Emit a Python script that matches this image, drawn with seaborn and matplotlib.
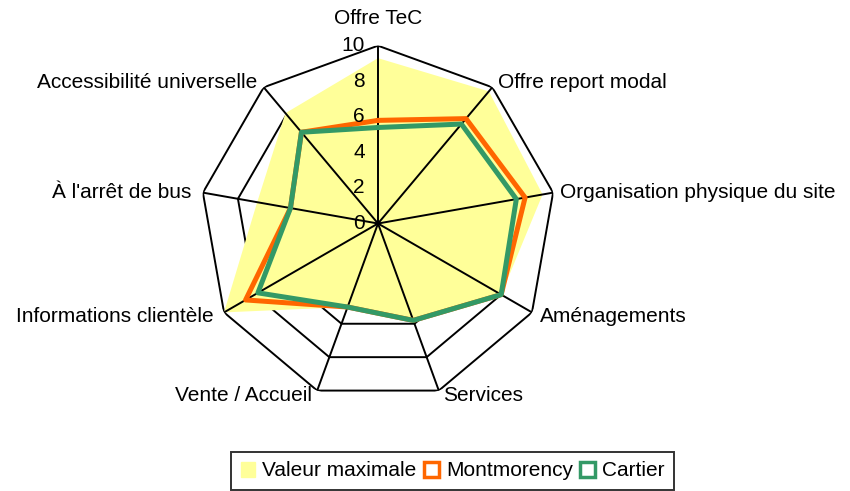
import numpy as np
import pandas as pd
import matplotlib
matplotlib.use("Agg")
import matplotlib.pyplot as plt
from matplotlib.patches import Patch
import seaborn as sns

categories = ["Offre TeC", "Offre report modal", "Organisation physique du site",
              "Aménagements", "Services", "Vente / Accueil",
              "Informations clientèle", "À l'arrêt de bus", "Accessibilité universelle"]
valeur_max = [9.3, 9.7, 9.4, 8.0, 5.8, 5.0, 10.0, 6.9, 8.1]
montmorency = [5.8, 7.7, 8.4, 8.0, 5.8, 5.0, 8.6, 5.0, 6.7]
cartier = [5.4, 7.3, 7.9, 8.0, 5.8, 5.0, 7.8, 5.0, 6.7]
ring_ticks = [0, 2, 4, 6, 8, 10]

sns.set_theme(style="white")
plt.rcParams["font.family"] = ["Liberation Sans", "DejaVu Sans"]
plt.rcParams["text.color"] = "black"

W, H = 850, 491
fig = plt.figure(figsize=(W / 100, H / 100), dpi=100)
cx, cy, R = 378, 223.5, 177.8
ax = fig.add_axes([(cx - R) / W, (H - cy - R) / H, 2 * R / W, 2 * R / H], projection="polar")
ax.set_theta_offset(np.pi / 2)
ax.set_theta_direction(-1)
ax.set_ylim(0, 10)
ax.grid(False)
ax.spines["polar"].set_visible(False)
ax.set_xticks([])
ax.set_yticks([])
ax.set_facecolor("none")

n = len(categories)
theta = np.arange(n) * 2 * np.pi / n
theta_closed = np.append(theta, 2 * np.pi)

# rings (behind the fill)
for v in ring_ticks[1:]:
    ax.plot(theta_closed, [v] * (n + 1), color="black", lw=1.4, zorder=1)

# filled max series
ax.fill(theta_closed, valeur_max + valeur_max[:1], color="#FFFF99", lw=0, zorder=2)

# spokes
for t in theta:
    ax.plot([t, t], [0, 10], color="black", lw=1.4, zorder=3)

rows = []
for name, vals in [("Montmorency", montmorency), ("Cartier", cartier)]:
    for t, v in zip(theta_closed, vals + vals[:1]):
        rows.append({"series": name, "theta": t, "value": v})
df = pd.DataFrame(rows)
sns.lineplot(data=df, x="theta", y="value", hue="series", sort=False, estimator=None,
             palette={"Montmorency": "#FF6600", "Cartier": "#339966"},
             linewidth=3.6, ax=ax, legend=False, zorder=4)
ax.set_xlabel("")
ax.set_ylabel("")
ax.set_ylim(0, 10)

fs = 15
# radial tick labels
for v in ring_ticks:
    ax.annotate(str(v), xy=(0, v), xytext=(-13, 0), textcoords="offset pixels",
                ha="right", va="center", fontsize=fs, color="black", zorder=6)

offsets = [((0, 27), "center"), ((6, 5), "left"), ((7, 0), "left"), ((8, -4), "left"),
           ((4, -5), "left"), ((-5, -5), "right"), ((-10, -4), "right"),
           ((-12, 0), "right"), ((-6, 5), "right")]
for t, lab, (off, ha) in zip(theta, categories, offsets):
    ax.annotate(lab, xy=(t, 10), xytext=off, textcoords="offset pixels",
                ha=ha, va="center", fontsize=fs, color="black", annotation_clip=False)

handles = [Patch(facecolor="#FFFF99", edgecolor="#FFFF99", label="Valeur maximale"),
           Patch(facecolor="white", edgecolor="#FF6600", lw=2.5, label="Montmorency"),
           Patch(facecolor="white", edgecolor="#339966", lw=2.5, label="Cartier")]
leg = fig.legend(handles=handles, loc="center", bbox_to_anchor=(452.5 / W, 1 - 471 / H),
                 ncol=3, frameon=True, fancybox=False, fontsize=fs, labelcolor="black",
                 handlelength=0.7, handleheight=0.7, handletextpad=0.35,
                 columnspacing=0.35, borderpad=0.45, borderaxespad=0)
leg.get_frame().set_edgecolor("black")
leg.get_frame().set_linewidth(1.4)

fig.savefig("out.png", dpi=100)
